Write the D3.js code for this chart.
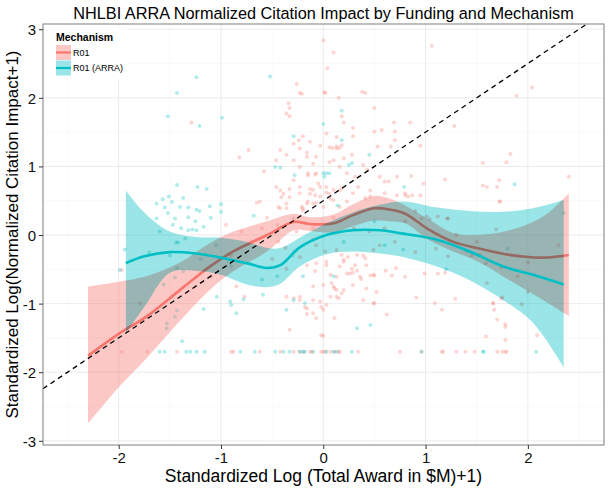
<!DOCTYPE html>
<html><head><meta charset="utf-8">
<script src="https://cdn.jsdelivr.net/npm/d3@7"></script>
<style>body{margin:0;background:#fff} text{font-family:"Liberation Sans",Arial,Helvetica,sans-serif}</style>
</head><body><svg id="c" width="612" height="489"></svg>
<script>
const title = "NHLBI ARRA Normalized Citation Impact by Funding and Mechanism";
const xTitle = "Standardized Log (Total Award in $M)+1)";
const yTitle = "Standardized Log(Normalized Citation Impact+1)";
const xTicks = [-2, -1, 0, 1, 2];
const yTicks = [-3, -2, -1, 0, 1, 2, 3];
const mechanisms = ["R01", "R01 (ARRA)"];

// smooth fit R01
const r01X     = [-2.30,-2.00,-1.73,-1.40,-1.11,-0.88,-0.55,-0.29,-0.13, 0.10, 0.29, 0.50, 0.65, 0.80, 1.04, 1.27, 1.50, 1.82, 2.15, 2.40];
const r01Fit   = [-1.76,-1.44,-1.19,-0.80,-0.46,-0.24, 0.00, 0.19, 0.16, 0.17, 0.29, 0.39, 0.37, 0.31, 0.07,-0.10,-0.19,-0.29,-0.33,-0.29];
const r01Upper = [-0.75,-0.68,-0.60,-0.40,-0.12, 0.05, 0.20, 0.31, 0.26, 0.30, 0.45, 0.57, 0.53, 0.43, 0.22, 0.03, 0.00, 0.07, 0.27, 0.61];
const r01Lower = [-2.75,-2.22,-1.80,-1.25,-0.80,-0.53,-0.24, 0.07, 0.06, 0.04, 0.13, 0.21, 0.20, 0.17,-0.08,-0.24,-0.38,-0.66,-0.95,-1.18];

// smooth fit R01 (ARRA)
const arraX     = [-1.93,-1.75,-1.50,-1.25,-1.00,-0.75,-0.55,-0.42,-0.23, 0.03, 0.29, 0.55, 0.78, 1.11, 1.43, 1.76, 2.05, 2.35];
const arraFit   = [-0.41,-0.31,-0.25,-0.27,-0.33,-0.41,-0.48,-0.44,-0.18, 0.00, 0.07, 0.07, 0.02,-0.07,-0.24,-0.46,-0.58,-0.72];
const arraUpper = [ 0.65, 0.33, 0.05,-0.03,-0.04,-0.10,-0.19,-0.19,-0.04, 0.17, 0.33, 0.44, 0.49, 0.40, 0.35, 0.34, 0.39, 0.51];
const arraLower = [-1.43,-1.05,-0.55,-0.52,-0.58,-0.72,-0.76,-0.71,-0.46,-0.28,-0.24,-0.27,-0.32,-0.46,-0.66,-0.95,-1.28,-1.93];

// reference line y = x + 0.5
const refIntercept = 0.5, refSlope = 1;

const r01Points = [
[0.00,2.84],[0.10,2.66],[0.04,2.43],[1.06,2.76],[-0.26,2.20],[-0.23,2.07],[0.02,2.07],[0.01,2.08],[0.15,2.00],[0.38,2.09],[0.41,2.07],[-0.21,2.06],[2.04,2.15],[1.89,2.03],[-0.34,1.92],[-0.33,1.85],[-0.36,1.77],[-0.33,1.73],[0.50,1.85],[-1.29,1.64],
[0.69,1.64],[0.85,1.64],[1.28,1.59],[0.50,1.51],[0.57,1.53],[0.70,1.51],[0.29,1.56],[0.20,1.64],[0.18,1.73],[0.70,1.38],[0.53,1.29],[0.66,1.29],[0.95,1.30],[0.29,1.44],[0.13,1.29],[0.16,1.27],[0.18,1.31],[0.09,1.27],[-0.03,1.30],[-0.13,1.36],[-0.16,1.20],[-0.20,1.44],[-0.07,1.14],[0.06,1.06],[0.20,1.12],[0.28,1.17],[0.39,1.02],[0.43,0.95],[0.55,0.85],[0.64,0.78],[0.72,0.85],[0.86,0.86],[0.98,0.75],[1.19,0.81],[1.56,1.05],[1.79,1.06],[1.83,1.18],[1.72,0.80],[1.56,0.72],[1.70,0.70],[1.72,0.49],[2.40,0.85],[0.60,0.78],[0.80,0.58],[0.83,0.56],[0.87,0.58],[1.60,0.70],[1.73,0.49],[0.96,0.24],[1.04,0.23],[1.22,0.24],
[-0.08,0.88],[-0.15,0.90],[-0.05,0.75],[-0.10,0.66],[-0.03,0.56],[-0.16,0.46],[-0.20,0.36],[0.10,0.66],[0.18,0.68],[0.23,0.90],[0.31,0.85],[0.34,0.70],[0.46,0.56],[0.60,0.61],[0.72,0.58],[0.80,0.61],[0.95,0.58],[1.01,0.27],[1.12,0.27],[1.21,0.24],
[-0.46,1.09],[-0.42,1.24],[-0.36,1.17],[-0.29,1.33],[-0.24,1.38],[-0.23,1.26],[-0.29,1.09],[-0.23,0.99],[-0.16,1.14],[-0.15,0.87],[-0.10,1.04],[-0.07,0.90],[0.03,1.48],[0.06,1.28],[0.10,1.09],[0.13,1.43],[0.13,1.26],[0.16,0.99],[-0.46,0.70],[-0.39,0.60],[-0.33,0.55],[-0.29,0.80],[-0.23,0.70],[-0.13,0.60],[-0.10,0.46],[-0.03,0.70],[0.03,0.70],[0.06,0.60],[0.10,0.51],[0.16,0.41],[-0.44,0.41],[-0.36,0.39],[-0.20,0.39],[-0.29,0.24],
[-0.73,1.24],[-0.82,1.13],[-0.58,0.93],[-0.65,0.47],[-0.95,0.15],
[-0.42,0.65],[-0.41,0.55],[-0.33,0.67],[-0.23,0.61],[-0.13,0.67],[-0.08,0.58],[0.03,0.62],[0.07,0.53],[0.16,0.65],[0.23,0.49],[0.29,0.61],[0.41,0.54],[0.46,0.65],[-0.42,0.39],[-0.36,0.46],[-0.21,0.41],[-0.15,0.49],[-0.07,0.47],[0.00,0.41],[-0.62,0.49],[-0.26,0.05],[-0.10,-0.07],
[-0.37,-0.19],[-0.44,-0.10],[-0.28,-0.24],[-0.23,-0.32],[-0.07,-0.15],[0.02,-0.24],[0.13,-0.22],[0.24,-0.32],[0.33,-0.29],[0.41,-0.34],[0.49,-0.22],[0.03,-0.39],[0.16,-0.46],[0.28,-0.49],[0.42,-0.44],[-0.16,-0.44],[-0.08,-0.53],[-0.36,-0.49],[0.07,-0.58],[0.23,-0.56],[0.36,-0.61],[0.49,-0.58],[0.00,-0.73],[0.11,-0.78],[0.29,-0.73],[0.42,-0.78],[0.52,-0.83],[0.20,-0.39],
[0.00,-1.47],[-0.02,-1.05],[0.03,-1.02],[0.00,-1.09],[0.13,-0.90],[0.15,-0.92],[0.18,-0.85],[0.20,-0.80],[0.10,-0.75],[-0.07,-1.21],[-0.10,-0.75],[-0.16,-1.15],[0.11,-1.21],[0.39,-0.95],[0.50,-0.99],[0.62,-1.16],[0.91,-0.91],[1.09,-0.99],[1.16,-1.09],[1.29,-0.93],[1.66,-0.99],[1.67,-1.09],[1.70,-1.23],[1.59,-1.48],[1.78,-1.34],[1.78,-1.53],[0.99,-0.56],[1.12,-0.56],[1.19,-0.55],[0.61,-0.52],[0.67,-0.59],[0.71,-0.48],[0.80,-0.61],[0.33,-0.52],[0.26,-0.56],[0.29,-0.55],[0.31,-0.44],[0.20,-0.36],[0.18,-0.29],[0.37,-0.64],[0.46,-0.59],[0.39,-0.30],[0.03,-0.44],[0.13,-0.61],[0.08,-0.70],[-0.07,-0.41],[-0.10,-0.95],[-0.18,-1.05],[-0.23,-0.90],[1.40,-0.24],[1.59,-0.41],[1.53,-0.29],[1.74,-0.93],[1.60,-0.70],[1.66,-1.00],[1.75,-0.91],[1.78,-1.30],[1.94,-1.01],[2.00,-0.83],[2.09,-1.46],[1.74,-0.47],[1.69,0.08],[0.49,-1.00],[0.50,-0.59],[1.45,-0.30],[1.22,-0.31],
[-1.97,-0.51],[-1.79,-1.00],[-0.33,-1.38],[-0.36,-0.90],[-0.29,-0.92],[-0.23,-0.95],[-0.16,-1.07],[-0.10,-1.14],[-0.03,-0.97],[0.07,-0.90],[0.13,-0.80],[-0.02,-1.46],[-0.85,-0.75],[-0.77,-0.90],
[-0.90,-0.30],[-0.70,-0.10],[-0.60,0.10],[-0.50,-0.35],[-0.55,0.25],[-0.80,0.05],[-1.10,-0.60],[-0.45,0.15],[0.60,0.10],[0.80,0.20],[0.90,0.35],[1.30,0.00],[0.70,-0.10],[0.45,0.05],[0.30,0.10],[0.10,0.25],[-0.10,0.10],[0.55,-0.15],[0.90,-0.25],[1.10,-0.20],[1.50,-0.10],[2.00,-0.40],[1.90,-0.60],[2.30,-0.15],
[-1.97,-1.70],[-1.72,-1.70],[-1.43,-1.70],[-0.90,-1.70],[-0.88,-1.70],[-0.62,-1.70],[-0.42,-1.70],[-0.29,-1.70],[-0.23,-1.70],[-0.13,-1.70],[-0.02,-1.70],[0.02,-1.70],[0.07,-1.70],[0.11,-1.70],[-0.19,-1.70],[-0.11,-1.70],[0.00,-1.70],[0.15,-1.70],[0.16,-1.70],[0.34,-1.70],[0.75,-1.70],[0.96,-1.70],[1.16,-1.70],[1.17,-1.70],[1.30,-1.70],[1.39,-1.70],[1.48,-1.70],[1.70,-1.70],[1.75,-1.70],[1.78,-1.70],[1.79,-1.70]
];

const arraPoints = [
[-1.24,2.30],[-0.52,2.31],[-1.43,2.07],[-1.52,1.73],[-1.21,1.59],[-0.99,1.71],[0.00,1.62],[0.18,1.81],[0.18,1.38],[0.45,1.17],[0.25,1.02],[0.28,1.05],[0.01,0.85],[0.06,0.90],[0.79,0.70],[1.87,0.74],[0.14,0.43],[-0.29,1.44],[-0.47,0.99],[-0.42,0.98],[-0.28,0.87],[0.00,0.90],[0.03,0.90],[-0.68,0.28],
[-1.43,0.73],[-1.23,0.70],[-1.14,0.67],[-1.51,0.56],[-1.57,0.52],[-1.37,0.54],[-1.63,0.46],[-1.40,0.41],[-1.32,0.40],[-1.48,0.48],[-1.11,0.42],[-1.00,0.45],[-1.00,0.34],[-1.21,0.35],[-1.24,0.37],[-1.52,0.32],[-1.63,0.24],[-1.45,0.24],[-1.32,0.26],[-1.17,0.12],[-1.47,0.15],[-1.39,0.10],[-1.32,0.07],[-1.28,0.08],[-1.24,0.07],[-1.44,-0.11],[-1.42,-0.11],[-1.94,-0.21],[-1.55,0.40],[-1.25,0.20],[-1.10,0.25],[-1.60,0.05],[-1.35,-0.05],[-1.70,-0.25],[-1.50,-0.30],[-1.20,-0.35],[-1.05,-0.15],[-0.90,-0.45],[-0.60,-0.65],[-0.45,-0.60],[-0.30,-0.30],[-0.20,-0.60],
[-1.43,-1.10],[-1.53,-1.29],[-1.53,-1.36],[-1.45,-1.19],[-1.38,-1.55],[-1.17,-1.08],[-1.04,-0.90],[-0.91,-0.97],[-0.85,-1.14],[-0.90,-1.02],[-0.78,-0.94],[-0.59,-0.87],[-0.36,-1.09],[-0.29,-0.95],[-0.18,-0.99],[-1.99,-0.51],[-1.45,-0.62],[-1.43,-0.48],[-1.37,-0.53],[-1.56,-0.72],
[0.33,-1.36],[0.46,-1.31],[0.78,-0.21],[0.60,-0.15],[2.35,0.32],[0.10,-0.60],[0.20,-0.10],[0.50,0.20],[1.20,-0.50],[1.80,-0.20],
[-1.60,-1.70],[-1.55,-1.70],[-1.34,-1.70],[-1.30,-1.70],[-1.24,-1.70],[-1.16,-1.70],[-0.81,-1.70],[-0.67,-1.70],[-0.47,-1.70],[-0.39,-1.70],[-0.33,-1.70],[-0.20,-1.70],[-0.10,-1.70],[0.13,-1.70],[-0.23,-1.70],[-0.18,-1.70],[0.03,-1.70],[0.10,-1.70],[0.28,-1.70],[0.96,-1.70],[1.56,-1.70],[1.57,-1.70],[2.08,-1.70]
];

const colors = {"R01": "#F8766D", "R01 (ARRA)": "#00BFC4"};

const svg = d3.select("#c");
const P = {l: 43, r: 604, t: 24, b: 445};
const x = d3.scaleLinear().domain([-2.74, 2.744]).range([P.l, P.r]);
const y = d3.scaleLinear().domain([-3.061, 3.076]).range([P.b, P.t]);

svg.append("rect").attr("x",0).attr("y",0).attr("width",612).attr("height",489).attr("fill","#fff");

const defs = svg.append("defs");
defs.append("clipPath").attr("id","clip").append("rect")
  .attr("x",P.l).attr("y",P.t).attr("width",P.r-P.l).attr("height",P.b-P.t);

// grid
const g = svg.append("g");
const minorX = d3.range(-2.5, 2.75, 1), minorY = d3.range(-2.5, 3.0, 1);
g.selectAll(".mnx").data(minorX).enter().append("line")
  .attr("x1",d=>x(d)).attr("x2",d=>x(d)).attr("y1",P.t).attr("y2",P.b)
  .attr("stroke","#f5f5f5").attr("stroke-width",0.6);
g.selectAll(".mny").data(minorY).enter().append("line")
  .attr("y1",d=>y(d)).attr("y2",d=>y(d)).attr("x1",P.l).attr("x2",P.r)
  .attr("stroke","#f5f5f5").attr("stroke-width",0.6);
g.selectAll(".mjx").data(xTicks).enter().append("line")
  .attr("x1",d=>x(d)).attr("x2",d=>x(d)).attr("y1",P.t).attr("y2",P.b)
  .attr("stroke","#e6e6e6").attr("stroke-width",0.8);
g.selectAll(".mjy").data(yTicks).enter().append("line")
  .attr("y1",d=>y(d)).attr("y2",d=>y(d)).attr("x1",P.l).attr("x2",P.r)
  .attr("stroke","#e6e6e6").attr("stroke-width",0.8);

const plot = svg.append("g").attr("clip-path","url(#clip)");

// points
plot.selectAll(".pr").data(r01Points).enter().append("circle")
  .attr("cx",d=>x(d[0])).attr("cy",d=>y(d[1])).attr("r",2)
  .attr("fill",colors["R01"]).attr("fill-opacity",0.3);
plot.selectAll(".pa").data(arraPoints).enter().append("circle")
  .attr("cx",d=>x(d[0])).attr("cy",d=>y(d[1])).attr("r",2)
  .attr("fill",colors["R01 (ARRA)"]).attr("fill-opacity",0.3);

const curve = d3.curveCatmullRom.alpha(0.5);
function drawSmooth(xs, fit, lo, hi, col, blend){
  const rows = xs.map((v,i)=>({x:v, f:fit[i], lo:lo[i], hi:hi[i]}));
  const area = d3.area().x(d=>x(d.x)).y0(d=>y(d.lo)).y1(d=>y(d.hi)).curve(curve);
  const line = d3.line().x(d=>x(d.x)).y(d=>y(d.f)).curve(curve);
  plot.append("path").datum(rows).attr("d",area).attr("fill",col).attr("fill-opacity",0.4)
    .style("mix-blend-mode", blend);
  plot.append("path").datum(rows).attr("d",line).attr("fill","none").attr("stroke",col).attr("stroke-width",2.6);
}
drawSmooth(r01X, r01Fit, r01Lower, r01Upper, colors["R01"], "normal");
drawSmooth(arraX, arraFit, arraLower, arraUpper, colors["R01 (ARRA)"], "multiply");

// reference line
const xd = x.domain();
plot.append("line")
  .attr("x1",x(xd[0])).attr("y1",y(refIntercept+refSlope*xd[0]))
  .attr("x2",x(xd[1])).attr("y2",y(refIntercept+refSlope*xd[1]))
  .attr("stroke","#000").attr("stroke-width",1.3).attr("stroke-dasharray","5,4");

// panel border
svg.append("rect").attr("x",P.l).attr("y",P.t).attr("width",P.r-P.l).attr("height",P.b-P.t)
  .attr("fill","none").attr("stroke","#7f7f7f").attr("stroke-width",1);

// titles (drawn before tick labels so labels stay on top)
svg.append("text").attr("x",(P.l+P.r)/2).attr("y",19).attr("text-anchor","middle")
  .attr("font-size",16.3).attr("fill","#000").text(title);
svg.append("text").attr("x",(P.l+P.r)/2).attr("y",482).attr("text-anchor","middle")
  .attr("font-size",17.5).attr("fill","#000").text(xTitle);
svg.append("text").attr("transform",`translate(18,${(P.t+P.b)/2}) rotate(-90)`).attr("text-anchor","middle")
  .attr("font-size",17).attr("fill","#000").text(yTitle);

// axes
const fmt = d => String(d);
const xAxis = svg.append("g").attr("transform",`translate(0,${P.b})`)
  .call(d3.axisBottom(x).tickValues(xTicks).tickSize(4).tickPadding(3).tickFormat(fmt));
const yAxis = svg.append("g").attr("transform",`translate(${P.l},0)`)
  .call(d3.axisLeft(y).tickValues(yTicks).tickSize(4).tickPadding(3).tickFormat(fmt));
[xAxis,yAxis].forEach(a=>{
  a.select(".domain").remove();
  a.selectAll(".tick line").attr("stroke","#333").attr("stroke-width",1);
  a.selectAll(".tick text").attr("font-size",15).attr("fill","#111")
    .style("font-family","'Liberation Sans',Arial,sans-serif");
});
yAxis.selectAll(".tick text").attr("dy","0.36em");

// legend
const lg = svg.append("g");
lg.append("rect").attr("x",46).attr("y",27).attr("width",82).attr("height",52).attr("fill","#fff");
lg.append("text").attr("x",56).attr("y",41).attr("font-size",10.5).attr("font-weight","bold").text("Mechanism");
mechanisms.forEach((m,i)=>{
  const ky = 45 + i*15.5;
  lg.append("rect").attr("x",56).attr("y",ky).attr("width",15).attr("height",15)
    .attr("fill",colors[m]).attr("fill-opacity",0.4);
  lg.append("line").attr("x1",56).attr("x2",71).attr("y1",ky+7.5).attr("y2",ky+7.5)
    .attr("stroke",colors[m]).attr("stroke-width",2.2);
  lg.append("text").attr("x",73).attr("y",ky+10.5).attr("font-size",9).text(m);
});
</script></body></html>
